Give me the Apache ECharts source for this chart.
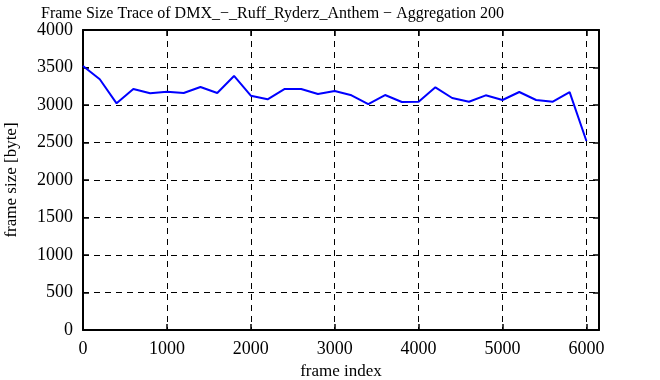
<!DOCTYPE html>
<html><head><meta charset="utf-8">
<script src="https://cdn.jsdelivr.net/npm/echarts@6/dist/echarts.min.js"></script>
<style>html,body{margin:0;padding:0;background:#fff}#c{width:660px;height:380px}</style>
</head><body><div id="c"></div>
<script>
const titleText = "Frame Size Trace of DMX_\u2212_Ruff_Ryderz_Anthem \u2212 Aggregation 200";
const xName = "frame index";
const yName = "frame size [byte]";
const frameIndex = [0,200,400,600,800,1000,1200,1400,1600,1800,2000,2200,2400,2600,2800,3000,3200,3400,3600,3800,4000,4200,4400,4600,4800,5000,5200,5400,5600,5800,6000];
const frameSize = [3520,3343,3022,3213,3156,3178,3160,3240,3160,3387,3124,3076,3213,3213,3147,3187,3129,3013,3133,3040,3044,3236,3093,3044,3129,3067,3173,3067,3044,3172,2520];
const xMin = 0, xMax = 6150, xStep = 1000;
const yMin = 0, yMax = 4000, yStep = 500;

const font = "Liberation Serif";
const chart = echarts.init(document.getElementById('c'), null, {renderer:'canvas'});
const axisLine = {show:true, onZero:false, lineStyle:{color:'#000', width:2}};
const tick = {show:true, inside:true, length:6, lineStyle:{color:'#000', width:1.5}};
const split = {show:true, showMinLine:false, showMaxLine:false, lineStyle:{color:'#000', width:1, type:[6,5]}};
const lbl = {color:'#000', fontFamily:font, fontSize:18};
chart.setOption({
  animation:false,
  title:{text:titleText, left:36, top:1, textStyle:{fontFamily:font, fontSize:16, fontWeight:'normal', color:'#000'}},
  grid:{left:83, right:61, top:30, bottom:50, containLabel:false, outerBoundsMode:'none'},
  xAxis:[
    {type:'value', min:xMin, max:xMax, interval:xStep, position:'bottom',
     name:xName, nameLocation:'middle', nameGap:33, nameTextStyle:{fontFamily:font, fontSize:17, color:'#000'},
     axisLine, axisTick:tick, splitLine:split,
     axisLabel:{...lbl, margin:10, showMaxLabel:false, formatter:v=>(v%xStep===0?String(v):'')}},
    {type:'value', min:xMin, max:xMax, interval:xStep, position:'top',
     axisLine, axisTick:tick, splitLine:{show:false}, axisLabel:{show:false}}
  ],
  yAxis:[
    {type:'value', min:yMin, max:yMax, interval:yStep, position:'left',
     name:yName, nameLocation:'middle', nameGap:63, nameRotate:90, nameTextStyle:{fontFamily:font, fontSize:17, color:'#000'},
     axisLine, axisTick:tick, splitLine:split, axisLabel:{...lbl, margin:10, formatter:v=>String(v)}},
    {type:'value', min:yMin, max:yMax, interval:yStep, position:'right',
     axisLine, axisTick:tick, splitLine:{show:false}, axisLabel:{show:false}}
  ],
  series:[{type:'line', data:frameIndex.map((x,i)=>[x,frameSize[i]]), showSymbol:false,
    lineStyle:{color:'#0000ff', width:2}, xAxisIndex:0, yAxisIndex:0}]
});
</script></body></html>
